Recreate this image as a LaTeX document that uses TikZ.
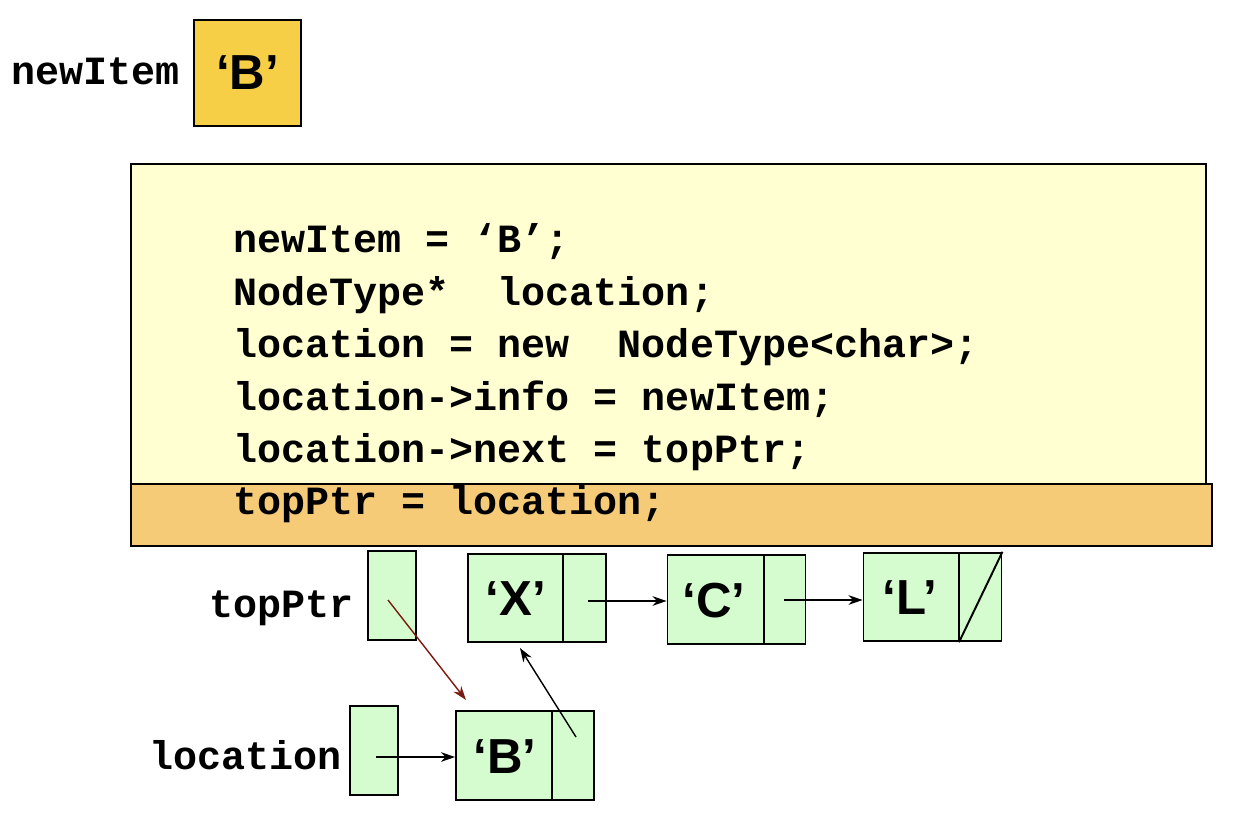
\documentclass[tikz,border=0pt]{standalone}
\usepackage{fontspec}
\usetikzlibrary{arrows.meta}
\newfontfamily\codefont{Liberation Mono}
\newfontfamily\lettfont{Liberation Sans}
\definecolor{itemfill}{HTML}{F7CF46}
\definecolor{codefill}{HTML}{FFFFD2}
\definecolor{hilite}{HTML}{F5CB78}
\definecolor{nodefill}{HTML}{D5FCCE}
\definecolor{redarrow}{HTML}{7A1A10}
\tikzset{
  code/.style={inner sep=0pt, anchor=base west, font=\codefont\bfseries\fontsize{22.8}{26}\selectfont},
  lbl/.style={inner sep=0pt, anchor=base east, font=\codefont\bfseries\fontsize{22.8}{26}\selectfont},
  lett/.style={inner sep=0pt, font=\lettfont\bfseries\fontsize{28}{32}\selectfont},
  cell/.style={draw=black, line width=1.1pt, fill=nodefill, inner sep=0pt},
  listnode/.style={cell, minimum width=2.76cm, minimum height=1.77cm},
  ptrbox/.style={cell, minimum width=0.96cm, minimum height=1.78cm},
  link/.style={draw=black, line width=0.8pt, -{Stealth[length=8pt,width=5.5pt]}},
}
\begin{document}
\begin{tikzpicture}[x=0.02cm, y=-0.02cm]
\useasboundingbox (0,0) rectangle (1234,816);
% newItem
\node[lbl] (newlbl) at (180,84) {newItem};
\node[draw=black, line width=1.1pt, fill=itemfill, minimum width=2.14cm, minimum height=2.12cm, inner sep=0pt] (newbox) at (247.5,73) {};
\node[lett] (newB) at (newbox.center) {‘B’};
% code box
\draw[line width=0.9pt, fill=codefill] (131,164) rectangle (1206,490);
\draw[line width=1.1pt, fill=hilite] (131,484) rectangle (1212,546);
\node[code] (c1) at (233,252) {newItem = ‘B’;};
\node[code] (c2) at (233,305) {NodeType*~~location;};
\node[code] (c3) at (233,357) {location = new~~NodeType<char>;};
\node[code] (c4) at (233,410) {location->info = newItem;};
\node[code] (c5) at (233,462) {location->next = topPtr;};
\node[code] (c6) at (233,514) {topPtr = location;};
% list
\node[lbl] (toplbl) at (354,617) {topPtr};
\node[ptrbox] (top) at (392,595.5) {};
\node[listnode] (X) at (537,598) {};
\draw[line width=1.1pt] (563,0 |- X.north) -- (563,0 |- X.south);
\node[lett] (Xt) at (516,599) {‘X’};
\node[listnode] (C) at (736.5,599.5) {};
\draw[line width=1.1pt] (764,0 |- C.north) -- (764,0 |- C.south);
\node[lett] (Ct) at (714,601) {‘C’};
\node[listnode] (L) at (932.5,597) {};
\draw[line width=1.1pt] (959,0 |- L.north) -- (959,0 |- L.south);
\draw[line width=1.1pt] (959,0 |- L.south) -- (L.north east);
\node[lett] (Lt) at (910,598) {‘L’};
\node[lbl] (loclbl) at (342,769) {location};
\node[ptrbox] (loc) at (374,750.5) {};
\node[listnode] (B) at (525,755.5) {};
\draw[line width=1.1pt] (552,0 |- B.north) -- (552,0 |- B.south);
\node[lett] (Bt) at (505,757) {‘B’};
% arrows
\coordinate (xp) at (588,601);
\coordinate (cp) at (784,600);
\coordinate (tp) at (388,600);
\coordinate (lp) at (376,757);
\coordinate (bp) at (576,737);
\coordinate (bt) at (466,700);
\coordinate (xt) at (520,648);
\draw[link] (xp) -- (C.west |- xp);
\draw[link] (cp) -- (L.west |- cp);
\draw[link, draw=redarrow] (tp) -- (bt);
\draw[link] (lp) -- (B.west |- lp);
\draw[link] (bp) -- (xt);
\end{tikzpicture}
\end{document}
